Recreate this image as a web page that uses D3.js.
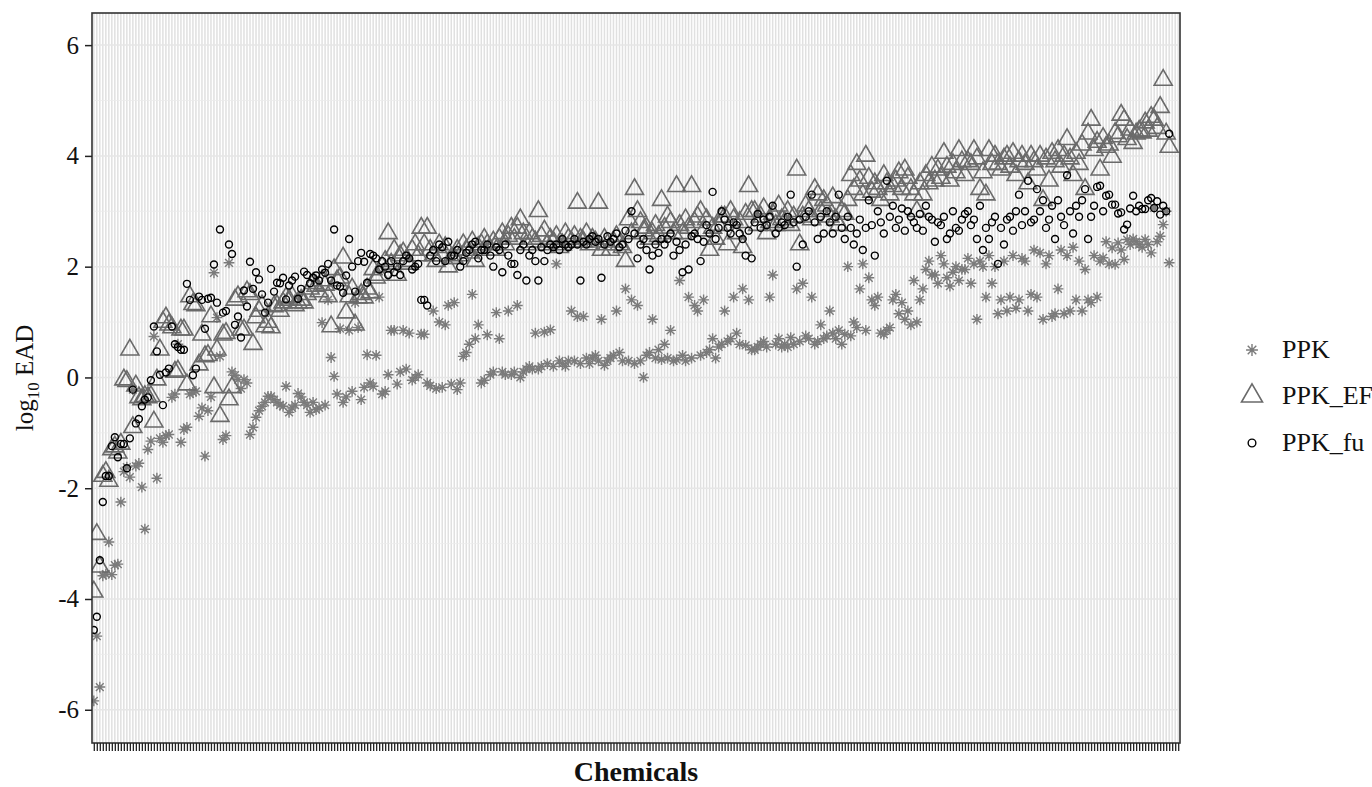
<!DOCTYPE html>
<html>
<head>
<meta charset="utf-8">
<script src="https://cdn.jsdelivr.net/npm/d3@7"></script>
<style>
  body { margin: 0; background: #fff; }
  svg { display: block; }
  text { font-family: "Liberation Serif", "Times New Roman", serif; fill: #111; }
</style>
</head>
<body>
<svg id="chart" width="1372" height="787"></svg>
<script>
// log10 EAD per chemical (chemicals in plotted order)
const ppk = [
  -5.84, -4.67, -5.59, -3.58, -3.55, -2.97, -3.56, -3.39, -3.37, -2.25,
  -1.70, -1.62, -1.80, -0.22, -1.60, -1.55, -1.98, -2.74, -1.30, -1.15,
  0.74, -1.82, -1.10, -1.17, -1.05, -1.03, -0.36, -0.30, 0.60, -1.17,
  -0.94, -0.90, -0.30, -0.27, -0.25, -0.70, -0.55, -1.42, -0.60, -0.35,
  1.89, 1.08, 0.38, -1.12, -1.05, 2.07, 0.10, 0.04, -0.04, -0.20,
  -0.04, -0.10, -1.03, -0.90, -0.72, -0.60, -0.52, -0.45, -0.34, -0.34,
  -0.40, -0.45, -0.50, -0.52, -0.16, -0.63, -0.55, -0.50, -0.29, -0.35,
  -0.45, -0.50, -0.63, -0.45, -0.58, -0.55, 0.99, -0.50, 1.40, 0.36,
  0.02, -0.30, 0.88, -0.45, -0.35, 0.85, -0.25, 1.35, 0.90, -0.40,
  -0.18, 0.41, -0.10, -0.16, 0.40, 1.45, -0.30, -0.25, 0.05, 0.85,
  0.85, -0.12, 0.10, 0.85, 0.15, 0.80, -0.05, 0.00, 0.05, 0.78,
  0.78, -0.10, -0.15, 1.20, -0.20, 1.00, -0.18, 0.95, 1.30, -0.12,
  1.35, -0.22, -0.10, 0.38, 0.45, 0.60, 1.50, 0.70, 0.95, -0.10,
  -0.05, 0.77, 0.05, 0.10, 1.17, 0.70, 0.10, 0.05, 1.20, 0.05,
  0.10, 1.30, 0.00, 0.10, 0.15, 0.20, 0.15, 0.80, 0.15, 0.20,
  0.82, 0.25, 0.86, 0.20, 2.05, 0.30, 0.25, 0.20, 0.30, 1.20,
  0.30, 1.10, 0.25, 1.10, 0.35, 0.25, 0.35, 0.40, 0.30, 1.05,
  0.22, 0.30, 0.35, 0.40, 1.20, 0.45, 0.30, 1.60, 0.30, 1.40,
  0.25, 1.30, 0.30, 0.00, 0.40, 0.45, 1.05, 0.35, 0.50, 0.32,
  0.60, 0.35, 0.85, 0.30, 0.32, 1.75, 0.40, 0.30, 1.45, 0.35,
  1.30, 1.20, 0.40, 1.40, 0.45, 0.50, 0.70, 0.35, 0.55, 0.60,
  1.20, 0.65, 0.70, 1.45, 0.80, 0.60, 1.60, 0.58, 1.40, 0.50,
  0.50, 0.55, 0.60, 0.65, 0.55, 1.45, 1.85, 0.60, 0.70, 0.55,
  0.60, 0.55, 0.72, 0.60, 1.60, 0.65, 1.70, 0.75, 0.70, 1.45,
  0.60, 0.65, 0.95, 0.70, 0.75, 1.20, 0.80, 0.70, 0.85, 0.60,
  0.78, 2.00, 0.75, 1.00, 0.90, 1.60, 2.05, 0.85, 1.80, 1.40,
  1.30, 1.45, 0.80, 0.78, 0.85, 0.90, 1.40, 1.50, 1.15, 1.35,
  1.05, 1.20, 0.95, 1.75, 1.00, 1.40, 1.60, 1.95, 2.10, 1.85,
  1.85, 1.70, 2.20, 2.05, 1.80, 1.65, 1.90, 2.00, 1.75, 1.95,
  1.95, 2.15, 1.70, 2.05, 1.05, 2.10, 2.00, 1.45, 2.20, 1.70,
  2.00, 1.15, 1.40, 2.10, 1.20, 1.45, 2.20, 1.25, 1.40, 2.15,
  2.10, 1.20, 1.50, 2.30, 1.45, 2.25, 1.05, 2.05, 2.20, 1.10,
  1.15, 1.60, 2.30, 1.15, 2.20, 1.20, 2.35, 1.40, 2.10, 1.20,
  1.95, 1.40, 1.35, 2.20, 1.45, 2.10, 2.16, 2.45, 2.05, 2.34,
  2.04, 2.43, 2.30, 2.13, 2.49, 2.40, 2.50, 2.45, 2.40, 2.35,
  2.49, 2.40, 2.25, 3.06, 2.45, 2.55, 2.76, 3.00, 2.07, null,
  null, null
];

const ppkEF = [
  -3.87, -2.83, -3.42, -1.78, -1.71, -1.87, -1.30, -1.25, -1.36, -1.20,
  -0.04, -0.07, 0.50, -0.90, -0.15, -0.36, -0.40, -0.34, -0.36, -0.34,
  -0.80, -0.04, 0.50, 1.00, 1.08, 0.95, 0.90, 0.10, 0.12, 0.86,
  0.86, -0.13, 1.46, 1.32, 1.30, 0.23, 0.77, 0.38, 0.40, 1.10,
  -0.18, 0.50, -0.70, 0.77, 0.80, -0.40, -0.18, 1.40, 1.46, 0.86,
  0.86, 1.55, 1.50, 0.60, 1.08, 1.20, 1.30, 0.92, 1.00, 0.90,
  1.28, 1.30, 1.20, 1.35, 1.44, 1.40, 1.46, 1.30, 1.35, 1.40,
  1.35, 1.50, 1.60, 1.70, 1.65, 1.55, 1.75, 1.67, 1.46, 0.92,
  1.95, 1.75, 1.80, 2.16, 1.17, 1.46, 1.60, 0.95, 1.44, 1.50,
  1.44, 1.60, 1.53, 1.95, 1.80, 1.85, 2.00, 2.10, 2.60, 2.05,
  2.30, 1.85, 2.20, 2.25, 2.10, 2.05, 2.30, 2.40, 2.20, 2.70,
  2.40, 2.70, 2.30, 2.20, 2.10, 2.40, 2.20, 2.35, 2.00, 2.15,
  2.15, 2.30, 2.20, 2.40, 2.30, 2.25, 2.45, 2.10, 2.35, 2.40,
  2.50, 2.40, 2.30, 2.45, 2.30, 2.50, 2.60, 2.40, 2.55, 2.70,
  2.50, 2.70, 2.85, 2.60, 2.40, 2.60, 2.50, 2.45, 3.00, 2.55,
  2.65, 2.40, 2.50, 2.45, 2.55, 2.35, 2.40, 2.60, 2.50, 2.45,
  2.55, 3.15, 2.50, 2.45, 2.60, 2.40, 2.50, 2.45, 3.15, 2.30,
  2.50, 2.40, 2.30, 2.45, 2.55, 2.40, 2.35, 2.10, 2.85, 2.60,
  3.40, 3.00, 2.80, 2.65, 2.70, 2.50, 2.60, 2.75, 2.55, 3.20,
  2.70, 2.90, 2.80, 2.60, 3.45, 2.75, 2.60, 2.85, 2.70, 3.45,
  2.80, 2.90, 3.00, 2.65, 2.85, 2.30, 2.70, 2.50, 2.75, 2.90,
  2.90, 2.40, 3.00, 2.85, 2.60, 2.80, 2.35, 2.95, 3.45, 3.00,
  3.00, 2.75, 2.90, 3.05, 2.60, 2.80, 2.95, 2.75, 3.10, 2.85,
  2.80, 3.00, 2.75, 2.90, 3.75, 2.40, 2.90, 3.10, 3.00, 2.85,
  3.40, 3.30, 3.00, 3.20, 3.10, 2.90, 3.25, 2.85, 2.75, 3.00,
  2.95, 3.20, 3.65, 3.40, 3.85, 3.55, 3.30, 4.00, 3.60, 3.35,
  3.50, 3.40, 3.20, 3.65, 3.50, 3.30, 3.45, 3.55, 3.70, 3.40,
  3.75, 3.60, 3.40, 3.30, 3.00, 3.50, 3.30, 3.65, 3.50, 3.80,
  3.55, 3.75, 3.60, 4.05, 3.80, 3.55, 3.85, 3.70, 4.10, 3.90,
  3.65, 3.90, 3.85, 4.10, 3.95, 3.40, 3.70, 3.30, 4.10, 3.85,
  4.00, 3.85, 3.75, 3.95, 4.00, 3.80, 4.05, 3.65, 3.90, 4.00,
  3.85, 3.50, 4.00, 3.90, 3.75, 4.00, 3.20, 3.95, 3.55, 4.05,
  3.90, 4.10, 3.80, 4.00, 4.30, 3.95, 3.65, 4.05, 3.85, 4.20,
  3.40, 4.40, 4.65, 4.10, 4.25, 3.75, 4.32, 4.16, 4.20, 3.98,
  4.41, 4.35, 4.74, 4.65, 4.30, 4.47, 4.23, 4.40, 4.45, 4.42,
  4.60, 4.45, 4.70, 4.65, 4.50, 4.88, 5.37, 4.40, 4.16, null,
  null, null
];

const ppkFu = [
  -4.56, -4.32, -3.30, -2.25, -1.78, -1.78, -1.24, -1.08, -1.44, -1.20,
  -1.20, -1.64, -1.10, -0.22, -0.83, -0.75, -0.52, -0.40, -0.36, -0.05,
  0.92, 0.47, 0.05, -0.50, 0.09, 0.16, 0.92, 0.60, 0.55, 0.50,
  0.50, 1.69, 1.40, 0.04, 0.16, 1.46, 1.40, 0.88, 1.42, 1.44,
  2.04, 1.35, 2.67, 1.17, 1.20, 2.40, 2.23, 0.95, 1.10, 0.72,
  1.57, 1.28, 2.09, 1.60, 1.90, 1.77, 1.50, 1.17, 1.35, 1.96,
  1.55, 1.71, 1.70, 1.80, 1.41, 1.66, 1.75, 1.82, 1.42, 1.60,
  1.91, 1.85, 1.70, 1.80, 1.84, 1.75, 1.95, 1.89, 2.05, 1.75,
  2.67, 1.66, 1.64, 1.53, 1.84, 2.50, 2.00, 1.55, 2.10, 2.25,
  2.09, 1.71, 2.23, 2.20, 2.15, 1.95, 2.10, 2.00, 1.85, 2.10,
  1.90, 2.00, 1.85, 2.10, 2.20, 2.15, 1.95, 2.00, 2.05, 1.40,
  1.40, 1.30, 2.20, 2.30, 2.10, 2.40, 2.35, 2.10, 2.45, 2.20,
  2.20, 2.30, 2.00, 2.10, 2.25, 2.30, 2.40, 2.45, 2.15, 2.30,
  2.30, 2.40, 2.20, 2.00, 2.35, 2.30, 1.90, 2.40, 2.20, 2.05,
  2.05, 1.85, 2.30, 2.40, 1.75, 2.20, 2.30, 2.10, 1.75, 2.35,
  2.10, 2.30, 2.40, 2.35, 2.40, 2.30, 2.50, 2.40, 2.35, 2.40,
  2.50, 2.40, 1.75, 2.45, 2.40, 2.50, 2.55, 2.45, 2.50, 1.80,
  2.40, 2.55, 2.45, 2.50, 2.60, 2.35, 2.40, 2.65, 2.50, 3.00,
  2.60, 2.15, 2.40, 2.50, 2.30, 1.95, 2.20, 2.40, 2.25, 2.50,
  2.40, 2.50, 2.60, 2.20, 2.45, 2.30, 1.90, 2.40, 1.95, 2.55,
  2.60, 2.50, 2.10, 2.45, 2.75, 2.60, 3.35, 2.50, 2.70, 3.00,
  2.85, 2.70, 2.60, 2.80, 2.75, 2.60, 2.50, 2.20, 2.65, 2.15,
  2.80, 2.95, 2.70, 2.85, 2.75, 2.90, 3.10, 2.60, 2.70, 2.80,
  2.75, 2.90, 3.30, 2.80, 2.00, 2.85, 2.40, 2.90, 3.00, 3.30,
  2.80, 2.50, 2.90, 2.60, 3.00, 2.80, 2.60, 2.90, 3.30, 2.70,
  2.50, 2.90, 2.70, 2.40, 2.60, 2.85, 2.30, 2.70, 3.20, 2.75,
  2.20, 3.00, 2.80, 2.60, 3.55, 2.90, 3.10, 2.70, 2.85, 3.05,
  2.65, 3.00, 2.90, 2.80, 2.70, 2.95, 2.65, 3.10, 2.90, 2.85,
  2.45, 2.80, 2.75, 2.90, 2.50, 2.60, 3.00, 2.70, 2.65, 2.85,
  2.95, 3.00, 2.75, 2.85, 2.50, 3.10, 2.30, 2.70, 2.50, 2.80,
  2.90, 2.05, 2.70, 2.40, 2.85, 2.90, 2.65, 3.00, 3.30, 2.75,
  3.00, 3.55, 2.80, 2.85, 3.40, 3.00, 3.20, 2.70, 2.85, 3.10,
  2.50, 3.20, 2.90, 2.75, 3.65, 3.00, 2.60, 3.10, 2.90, 3.20,
  3.40, 2.50, 2.90, 3.10, 3.44, 3.46, 3.00, 3.28, 3.30, 3.12,
  3.12, 2.96, 2.98, 2.67, 2.76, 3.05, 3.28, 3.00, 3.10, 3.04,
  3.04, 3.20, 3.24, 3.06, 3.18, 2.94, 3.10, 3.00, 4.40, null,
  null, null
];

// chemical names are not printed on the axis, only one tick per chemical
const chemicals = ppk.map((d, i) => "chem" + (i + 1));
const seriesNames = ["PPK", "PPK_EF", "PPK_fu"];
const yTicks = [-6, -4, -2, 0, 2, 4, 6];
const yMinor = [-5, -3, -1, 1, 3, 5];

const svg = d3.select("#chart");
let width = 1372;
let height = 787;
let panel = {left: 92, right: 1180, top: 13, bottom: 743};

let x = d3.scalePoint()
  .domain(chemicals)
  .range([panel.left, panel.right])
  .padding(0.6);

let y = d3.scaleLinear()
  .domain([-6.6, 6.58])
  .range([panel.bottom, panel.top]);

// ggplot-like point shapes
const starShape = {
  draw(ctx, r) {
    let d = r * 0.72;
    ctx.moveTo(-r, 0); ctx.lineTo(r, 0);
    ctx.moveTo(0, -r); ctx.lineTo(0, r);
    ctx.moveTo(-d, -d); ctx.lineTo(d, d);
    ctx.moveTo(-d, d); ctx.lineTo(d, -d);
  }
};
const triShape = {
  draw(ctx, s) {
    let h = s * Math.sqrt(3) / 2;
    ctx.moveTo(0, -h * 2 / 3);
    ctx.lineTo(s / 2, h / 3);
    ctx.lineTo(-s / 2, h / 3);
    ctx.closePath();
  }
};
const ringShape = {
  draw(ctx, r) {
    ctx.moveTo(r, 0);
    ctx.arc(0, 0, r, 0, 2 * Math.PI);
  }
};

const styles = {
  "PPK":    {shape: starShape, size: 5.4, color: "#7b7b7b", width: 1.4},
  "PPK_EF": {shape: triShape,  size: 18,  color: "#6a6a6a", width: 1.6},
  "PPK_fu": {shape: ringShape, size: 3.5, color: "#000000", width: 1.4}
};
const seriesValues = {"PPK": ppk, "PPK_EF": ppkEF, "PPK_fu": ppkFu};

// panel background + grid
svg.append("rect")
  .attr("x", 0).attr("y", 0)
  .attr("width", width).attr("height", height)
  .attr("fill", "#fff");

let grid = svg.append("g");
grid.selectAll(".vgrid")
  .data(chemicals)
  .enter().append("line")
  .attr("x1", d => x(d)).attr("x2", d => x(d))
  .attr("y1", panel.top).attr("y2", panel.bottom)
  .attr("stroke", "#e0e0e0")
  .attr("stroke-width", 1.5);
grid.selectAll(".hminor")
  .data(yMinor)
  .enter().append("line")
  .attr("x1", panel.left).attr("x2", panel.right)
  .attr("y1", d => y(d)).attr("y2", d => y(d))
  .attr("stroke", "#ebebeb")
  .attr("stroke-width", 0.8);
grid.selectAll(".hmajor")
  .data(yTicks)
  .enter().append("line")
  .attr("x1", panel.left).attr("x2", panel.right)
  .attr("y1", d => y(d)).attr("y2", d => y(d))
  .attr("stroke", "#e6e6e6")
  .attr("stroke-width", 1.5);

svg.append("clipPath").attr("id", "panelClip")
  .append("rect")
  .attr("x", panel.left).attr("y", panel.top)
  .attr("width", panel.right - panel.left)
  .attr("height", panel.bottom - panel.top);

let pts = svg.append("g").attr("clip-path", "url(#panelClip)");
for (let name of seriesNames) {
  let st = styles[name];
  let vals = seriesValues[name];
  let data = chemicals.map((c, i) => ({chem: c, v: vals[i]})).filter(d => d.v != null);
  pts.selectAll(".pt-" + name)
    .data(data)
    .enter().append("path")
    .attr("d", d3.symbol().type(st.shape).size(st.size))
    .attr("transform", d => "translate(" + x(d.chem) + "," + y(d.v) + ")")
    .attr("fill", "none")
    .attr("stroke", st.color)
    .attr("stroke-width", st.width);
}

// border
svg.append("rect")
  .attr("x", panel.left).attr("y", panel.top)
  .attr("width", panel.right - panel.left)
  .attr("height", panel.bottom - panel.top)
  .attr("fill", "none")
  .attr("stroke", "#333")
  .attr("stroke-width", 1.6);

// axes
let yAxis = svg.append("g")
  .attr("transform", "translate(" + panel.left + ",0)")
  .call(d3.axisLeft(y).tickValues(yTicks).tickSize(7).tickPadding(6).tickFormat(d => String(d)));
yAxis.select(".domain").remove();
yAxis.selectAll(".tick line").attr("stroke", "#222").attr("stroke-width", 1.5);
yAxis.selectAll(".tick text")
  .style("font-family", "'Liberation Serif', serif")
  .style("font-size", "25px")
  .attr("fill", "#111");

let xAxis = svg.append("g")
  .attr("transform", "translate(0," + panel.bottom + ")")
  .call(d3.axisBottom(x).tickSize(8).tickFormat(""));
xAxis.select(".domain").remove();
xAxis.selectAll(".tick line").attr("stroke", "#222").attr("stroke-width", 1.3);

// axis titles
svg.append("text")
  .attr("x", (panel.left + panel.right) / 2)
  .attr("y", 781)
  .attr("text-anchor", "middle")
  .style("font-size", "28px")
  .style("font-weight", "bold")
  .text("Chemicals");

let ylab = svg.append("text")
  .attr("transform", "translate(33," + ((panel.top + panel.bottom) / 2) + ") rotate(-90)")
  .attr("text-anchor", "middle")
  .style("font-size", "25px");
ylab.append("tspan").text("log");
ylab.append("tspan").attr("dy", 6).style("font-size", "17px").text("10");
ylab.append("tspan").attr("dy", -6).text(" EAD");

// legend
let legend = svg.append("g").attr("class", "legend");
let legendY = [350, 396, 443];
seriesNames.forEach((name, i) => {
  let st = styles[name];
  legend.append("path")
    .attr("d", d3.symbol().type(st.shape).size(name == "PPK_EF" ? 21 : st.size * 1.1))
    .attr("transform", "translate(1252," + legendY[i] + ")")
    .attr("fill", "none")
    .attr("stroke", st.color)
    .attr("stroke-width", st.width);
  legend.append("text")
    .attr("x", 1282)
    .attr("y", legendY[i] + 8)
    .style("font-size", "26px")
    .text(name);
});
</script>
</body>
</html>
